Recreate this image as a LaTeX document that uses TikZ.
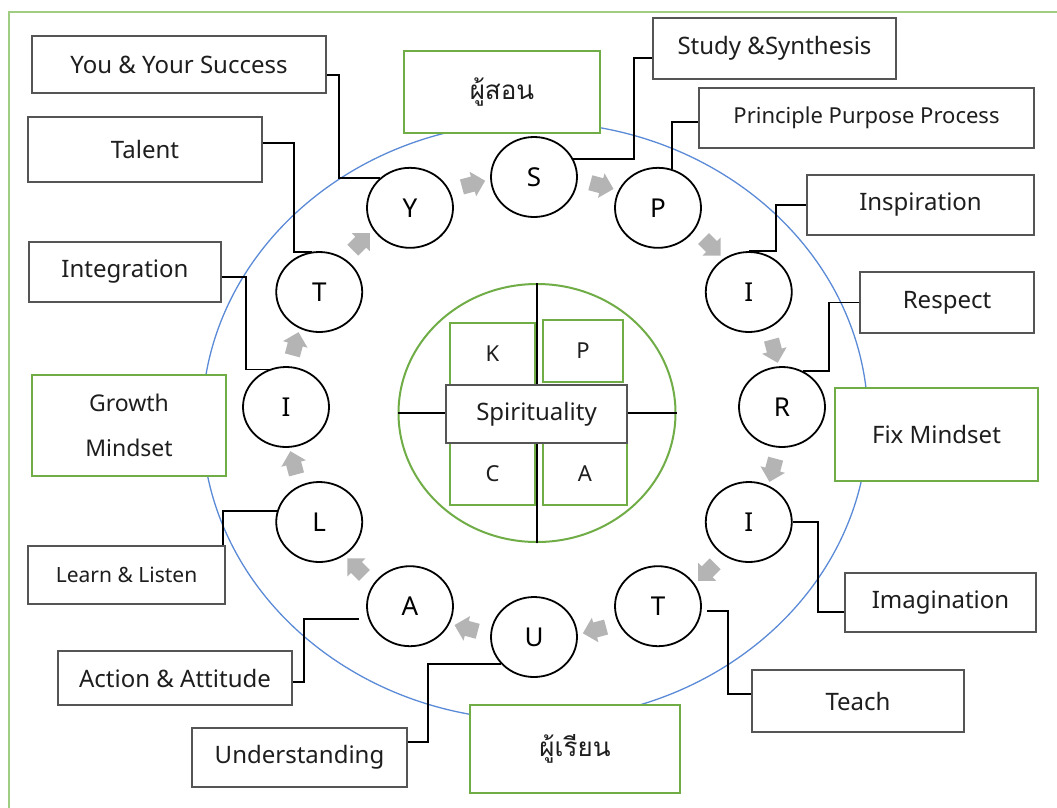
\documentclass[tikz,border=0pt]{standalone}
\usepackage{fontspec}
\setmainfont{Noto Sans}
\newfontfamily\thaifont[Script=Thai]{Loma}
\usepackage{tikz}
\usetikzlibrary{calc, shapes.geometric, shapes.arrows}

\tikzset{
  box/.style={draw={rgb,255:red,85;green,85;blue,85}, line width=1.5pt, fill=white, inner sep=0pt, text={rgb,255:red,30;green,30;blue,30}, font=\fontsize{24}{28}\selectfont},
  gbox/.style={box, draw={rgb,255:red,112;green,173;blue,71}, line width=2pt},
  wh/.style 2 args={minimum width=#1pt, minimum height=#2pt},
  letter/.style={draw, ellipse, line width=1.8pt, minimum width=86pt, minimum height=80pt, inner sep=0pt, fill=white, font=\fontsize{26}{30}\selectfont},
  flow/.style={single arrow, fill={rgb,255:red,180;green,180;blue,180}, draw=none, inner xsep=3pt, inner ysep=7.5pt, single arrow head extend=5pt, minimum height=24pt},
  link/.style={line width=1.8pt}
}

\begin{document}
\begin{tikzpicture}[x=1pt, y=-1pt]
    \useasboundingbox (0,0) rectangle (1057,807);
    \clip (0,0) rectangle (1057,807);
    \fill [white] (0,0) rectangle (1057,807);
    % outer frame and big ring
    \draw [line width=2pt, draw={rgb,255:red,160;green,205;blue,130}] (9,12) rectangle (1080,830);
    \draw [line width=1.3pt, draw={rgb,255:red,91;green,139;blue,215}] (535,421) ellipse [x radius=333pt, y radius=299pt];

    % centre
    \node [draw={rgb,255:red,112;green,173;blue,71}, line width=2pt, ellipse, minimum width=277pt, minimum height=258pt] (hub) at (537,413) {};
    \draw [link] (hub.north) -- (hub.south);
    \draw [link] (hub.west) -- (hub.east);
    \node [gbox, wh={85}{62}, font=\fontsize{22}{24}\selectfont] (k) at (492.5,354) {K};
    \node [gbox, wh={80}{62}, font=\fontsize{22}{24}\selectfont] (p) at (583,351) {P};
    \node [gbox, wh={85}{62}, font=\fontsize{22}{24}\selectfont] (c) at (492.5,474) {C};
    \node [gbox, wh={84}{62}, font=\fontsize{22}{24}\selectfont] (a) at (585,474) {A};
    \node [box, wh={181}{58}] (spirit) at (536.5,414) {Spirituality};

    % green boxes
    \node [gbox, wh={196}{82}, font=\thaifont\fontsize{26}{30}\selectfont] (teacher) at (502,92) {ผู้สอน};
    \node [gbox, wh={210}{88}, font=\thaifont\fontsize{26}{30}\selectfont] (learner) at (575,749) {ผู้เรียน};
    \node [gbox, wh={194}{101}, align=center, font=\fontsize{23}{45}\selectfont] (growth) at (129,425.5) {Growth\\Mindset};
    \node [gbox, wh={203}{93}] (fix) at (936.5,434.5) {Fix Mindset};

    % label boxes
    \node [box, wh={294}{57}] (you) at (179,64.5) {You \& Your Success};
    \node [box, wh={234}{65}] (talent) at (145,149.5) {Talent};
    \node [box, wh={192}{60}] (integ) at (125,272) {Integration};
    \node [box, wh={197}{58}, font=\fontsize{21}{24}\selectfont] (learn) at (126.5,575) {Learn \& Listen};
    \node [box, wh={234}{54}] (action) at (175,678) {Action \& Attitude};
    \node [box, wh={215}{59}] (under) at (299.5,757.5) {Understanding};
    \node [box, wh={243}{61}] (study) at (774.5,48.5) {Study \&Synthesis};
    \node [box, wh={335}{60}, font=\fontsize{22}{26}\selectfont] (ppp) at (866.5,118) {Principle Purpose Process};
    \node [box, wh={227}{60}] (insp) at (920.5,205) {Inspiration};
    \node [box, wh={174}{61}] (resp) at (947,302.5) {Respect};
    \node [box, wh={191}{59}] (imag) at (940.5,602.5) {Imagination};
    \node [box, wh={212}{62}] (teach) at (858,701) {Teach};

    % letter ring
    \foreach \nm/\lt/\ang in {cS/S/90, cP/P/60, cIa/I/30, cR/R/0, cIb/I/-30, cTa/T/-60, cU/U/-90, cA/A/-120, cL/L/-150, cIc/I/180, cTb/T/150, cY/Y/120}
        \node [letter] (\nm) at ({534+248*cos(\ang)}, {407-230*sin(\ang)}) {\lt};
    \foreach \ang in {105,75,45,15,-15,-45,-75,-105,-135,-165,165,135}
        \node [flow, rotate=\ang-90] at ({534+248*cos(\ang)}, {407-230*sin(\ang)}) {};

    % connectors
    \draw [link] ([yshift=-10.5]you.east) -- ++(12,0) |- (cY.135);
    \draw [link] ([yshift=6.5]talent.east) -- ++(31,0) |- (cTb.100);
    \draw [link] ([yshift=-5]integ.east) -- ++(24,0) |- (cIc.115);
    \draw [link] ([xshift=-3]learn.north east) |- (cL.165);
    \draw [link] ([yshift=-4]action.east) -- ++(11,0) |- ($(cA.west)+(-7,13)$);
    \draw [link] ([yshift=15.5]under.east) -- ++(20,0) |- (cU.220);
    \draw [link] ([yshift=-9.5]study.west) -- ++(-18,0) |- (cS.25);
    \draw [link] ([yshift=-4]ppp.west) -| (cP.70);
    \draw [link] (insp.west) -- ++(-30,0) |- (cIa.north);
    \draw [link] (resp.west) -- ++(-30,0) |- (cR.60);
    \draw [link] ([yshift=-9.5]imag.west) -- ++(-26,0) |- (cIb.east);
    \draw [link] ([yshift=7]teach.west) -- ++(-23,0) |- ($(cTa.east)+(5,5)$);
\end{tikzpicture}
\end{document}
